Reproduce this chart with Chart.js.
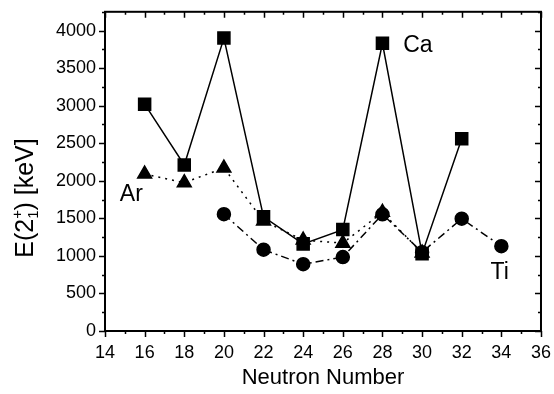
<!DOCTYPE html>
<html>
<head>
<meta charset="utf-8">
<script src="https://cdn.jsdelivr.net/npm/chart.js@4"></script>
<style>
  html, body { margin:0; padding:0; background:#fff; }
</style>
</head>
<body>
<canvas id="chart" width="554" height="394"></canvas>
<script>
const FONT = "'Liberation Sans', Arial, sans-serif";

// neutron number vs E(2+1) in keV
const nCa = [16, 18, 20, 22, 24, 26, 28, 30, 32];
const eCa = [3020, 2210, 3900, 1520, 1160, 1350, 3830, 1030, 2560];
const nAr = [16, 18, 20, 22, 24, 26, 28, 30];
const eAr = [2090, 1975, 2170, 1465, 1210, 1170, 1580, 1040];
const nTi = [20, 22, 24, 26, 28, 30, 32, 34];
const eTi = [1555, 1083, 889, 984, 1554, 1050, 1495, 1129];

const xTicks = [14, 16, 18, 20, 22, 24, 26, 28, 30, 32, 34, 36];
const yTicks = [0, 500, 1000, 1500, 2000, 2500, 3000, 3500, 4000];

// element labels, in data coords (left edge, vertical middle)
const labels = [
  { text: "Ca", x: 29.05, y: 3800 },
  { text: "Ar", x: 14.75, y: 1820 },
  { text: "Ti", x: 33.45, y: 775 }
];

const pts = (xs, ys) => xs.map((x, i) => ({ x, y: ys[i] }));

// frame, ticks, labels and y title
const framePlugin = {
  id: "frame",
  afterDraw(chart) {
    const { ctx, chartArea: a } = chart;
    const xs = chart.scales.x, ys = chart.scales.y;
    ctx.save();
    ctx.strokeStyle = "#000"; ctx.lineWidth = 2;
    ctx.strokeRect(a.left, a.top, a.right - a.left, a.bottom - a.top);
    ctx.lineWidth = 1.5;
    ctx.beginPath();
    for (let v = 14; v <= 36; v++) {
      const px = Math.round(xs.getPixelForValue(v)) + 0.5;
      const len = v % 2 === 0 ? 6 : 3;
      ctx.moveTo(px, a.bottom); ctx.lineTo(px, a.bottom + len);
      ctx.moveTo(px, a.top); ctx.lineTo(px, a.top + len);
    }
    for (let v = 0; v <= 4250; v += 250) {
      const py = Math.round(ys.getPixelForValue(v)) + 0.5;
      const len = v % 500 === 0 ? 6 : 3;
      ctx.moveTo(a.left, py); ctx.lineTo(a.left - len, py);
      ctx.moveTo(a.right, py); ctx.lineTo(a.right - len, py);
    }
    ctx.stroke();

    ctx.fillStyle = "#000";
    ctx.font = `23px ${FONT}`;
    ctx.textAlign = "left"; ctx.textBaseline = "middle";
    labels.forEach(l => ctx.fillText(l.text, xs.getPixelForValue(l.x), ys.getPixelForValue(l.y)));

    // y title E(2+1) [keV] with sub/superscript
    const big = `25px ${FONT}`, small = `15px ${FONT}`;
    ctx.translate(24, 198);
    ctx.rotate(-Math.PI / 2);
    ctx.textBaseline = "alphabetic";
    const parts = [
      { t: "E(2", f: big, dy: 0 },
      { t: "+", f: small, dy: -11, keep: true },
      { t: "1", f: small, dy: 5 },
      { t: ") [keV]", f: big, dy: 0 }
    ];
    let w = 0;
    parts.forEach(p => { ctx.font = p.f; p.w = ctx.measureText(p.t).width; if (!p.keep) w += p.w; });
    let x = -w / 2;
    parts.forEach(p => {
      ctx.font = p.f;
      ctx.fillText(p.t, x, 9 + p.dy);
      if (!p.keep) x += p.w;
    });
    ctx.restore();
  }
};

const ctx = document.getElementById("chart").getContext("2d");
new Chart(ctx, {
  type: "line",
  data: {
    datasets: [
      { label: "Ti", data: pts(nTi, eTi), borderColor: "#000", backgroundColor: "#000", borderWidth: 1.5,
        borderDash: [8, 4, 2, 4], pointStyle: "circle", pointRadius: 6.5, tension: 0 },
      { label: "Ar", data: pts(nAr, eAr), borderColor: "#000", backgroundColor: "#000", borderWidth: 1.5,
        borderDash: [2, 5], pointStyle: "triangle", pointRadius: 8, tension: 0 },
      { label: "Ca", data: pts(nCa, eCa), borderColor: "#000", backgroundColor: "#000", borderWidth: 1.5,
        pointStyle: "rect", pointRadius: 8.5, tension: 0 }
    ]
  },
  options: {
    responsive: false,
    animation: false,
    layout: { padding: { top: -2, right: -2, left: 0, bottom: 0 } },
    plugins: { legend: { display: false }, tooltip: { enabled: false } },
    scales: {
      x: {
        type: "linear", min: 14, max: 36,
        grid: { display: false }, border: { display: false },
        afterBuildTicks: (s) => { s.ticks = xTicks.map(v => ({ value: v })); },
        afterFit: (s) => { s.height = 63; },
        ticks: { color: "#000", padding: 3, maxRotation: 0, autoSkip: false,
          callback: (v) => String(v), font: { family: FONT, size: 18 } },
        title: { display: true, text: "Neutron Number", color: "#000", padding: { top: 2, bottom: 3 }, font: { family: FONT, size: 22 } }
      },
      y: {
        type: "linear", min: 0, max: 4250,
        grid: { display: false }, border: { display: false },
        afterBuildTicks: (s) => { s.ticks = yTicks.map(v => ({ value: v })); },
        afterFit: (s) => { s.width = 105; },
        ticks: { color: "#000", padding: 1, autoSkip: false,
          callback: (v) => String(v), font: { family: FONT, size: 18 } }
      }
    }
  },
  plugins: [framePlugin]
});
</script>
</body>
</html>
